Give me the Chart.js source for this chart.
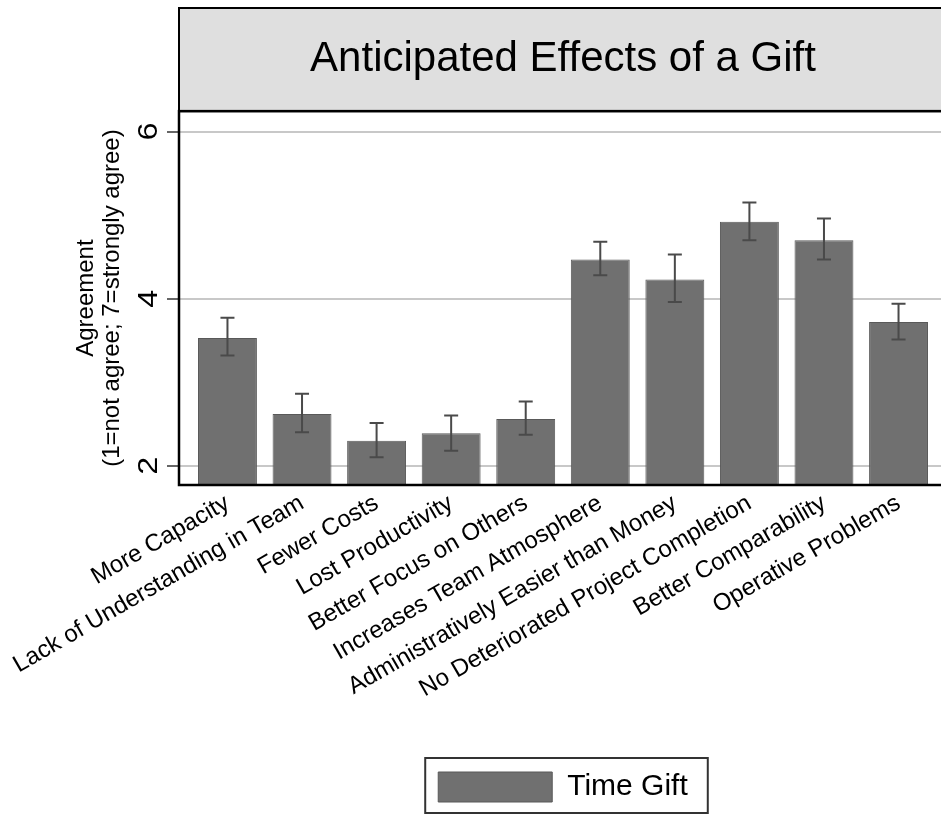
<!DOCTYPE html>
<html>
<head>
<meta charset="utf-8">
<title>Anticipated Effects of a Gift</title>
<script src="https://cdn.jsdelivr.net/npm/chart.js@4/dist/chart.umd.min.js"></script>
<style>
  html, body { margin: 0; padding: 0; background: #fff; overflow: hidden; }
  #wrap { width: 950px; height: 814px; }
</style>
</head>
<body>
<div id="wrap"><canvas id="gift-chart" width="950" height="814"></canvas></div>
<script>
const categories = [
  "More Capacity",
  "Lack of Understanding in Team",
  "Fewer Costs",
  "Lost Productivity",
  "Better Focus on Others",
  "Increases Team Atmosphere",
  "Administratively Easier than Money",
  "No Deteriorated Project Completion",
  "Better Comparability",
  "Operative Problems"
];
const meanAgreement = [3.53, 2.62, 2.30, 2.39, 2.56, 4.47, 4.23, 4.92, 4.70, 3.72];
const ciUpper = [3.77, 2.86, 2.51, 2.60, 2.77, 4.68, 4.53, 5.15, 4.96, 3.94];
const ciLower = [3.32, 2.40, 2.10, 2.18, 2.37, 4.28, 3.96, 4.70, 4.47, 3.51];
const yTicks = [2, 4, 6];
const seriesLabel = "Time Gift";
const chartTitle = "Anticipated Effects of a Gift";
const yTitle = ["Agreement", "(1=not agree; 7=strongly agree)"];

const canvas = document.getElementById("gift-chart");

// gray title box + black frame around the plot
const framePlugin = {
  id: "frame",
  beforeDraw(chart) {
    const ctx = chart.ctx;
    const t = chart.titleBlock;
    ctx.save();
    ctx.fillStyle = "#dfdfdf";
    ctx.fillRect(t.left, t.top, t.width + 10, t.height);
    ctx.strokeStyle = "#000";
    ctx.lineWidth = 2;
    ctx.strokeRect(t.left, t.top, t.width + 10, t.height);
    ctx.restore();
  },
  afterDatasetsDraw(chart) {
    const ctx = chart.ctx;
    const a = chart.chartArea;
    ctx.save();
    ctx.strokeStyle = "#000";
    ctx.lineWidth = 2.5;
    ctx.strokeRect(a.left, a.top, a.right - a.left + 10, a.bottom - a.top);
    ctx.restore();
  }
};

// confidence interval whiskers
const errorBarPlugin = {
  id: "errorBars",
  afterDatasetsDraw(chart) {
    const ctx = chart.ctx;
    const y = chart.scales.y;
    const meta = chart.getDatasetMeta(0);
    ctx.save();
    ctx.strokeStyle = "#4a4a4a";
    ctx.lineWidth = 2;
    meta.data.forEach((bar, i) => {
      const top = y.getPixelForValue(ciUpper[i]);
      const bottom = y.getPixelForValue(ciLower[i]);
      ctx.beginPath();
      ctx.moveTo(bar.x, top);
      ctx.lineTo(bar.x, bottom);
      ctx.moveTo(bar.x - 7, top);
      ctx.lineTo(bar.x + 7, top);
      ctx.moveTo(bar.x - 7, bottom);
      ctx.lineTo(bar.x + 7, bottom);
      ctx.stroke();
    });
    ctx.restore();
  }
};

// rotated y tick labels and the legend frame
const labelPlugin = {
  id: "yLabels",
  afterDraw(chart) {
    const ctx = chart.ctx;
    const y = chart.scales.y;
    ctx.save();
    ctx.fillStyle = "#000";
    ctx.font = "27px 'Liberation Sans', Arial, sans-serif";
    ctx.textAlign = "center";
    ctx.textBaseline = "middle";
    yTicks.forEach(v => {
      ctx.save();
      ctx.translate(149, y.getPixelForValue(v));
      ctx.rotate(-Math.PI / 2);
      ctx.scale(1.2, 1);
      ctx.fillText(String(v), 0, 1);
      ctx.restore();
    });
    const hb = chart.legend.legendHitBoxes[0];
    if (hb) {
      ctx.strokeStyle = "#333";
      ctx.lineWidth = 2;
      ctx.strokeRect(hb.left - 13, hb.top - 14, hb.width + 33, hb.height + 25);
    }
    ctx.restore();
  }
};

new Chart(canvas, {
  type: "bar",
  data: {
    datasets: [{
      label: seriesLabel,
      data: meanAgreement.map((v, i) => ({ x: i, y: v })),
      backgroundColor: "#707070",
      borderColor: "#595959",
      borderWidth: 1,
      barPercentage: 0.79,
      categoryPercentage: 1
    }]
  },
  options: {
    responsive: false,
    animation: false,
    layout: { padding: { top: 8, left: 0, right: 3, bottom: 2 } },
    scales: {
      x: {
        type: "linear",
        min: -0.65,
        max: 9.65,
        offset: false,
        afterBuildTicks: scale => {
          scale.ticks = categories.map((c, i) => ({ value: i }));
        },
        afterFit: scale => { scale.height = 277; },
        grid: { display: false },
        border: { display: false },
        ticks: {
          autoSkip: false,
          minRotation: 30,
          maxRotation: 30,
          padding: -4,
          color: "#000",
          font: { family: "'Liberation Sans', Arial, sans-serif", size: 24 },
          callback: v => categories[v]
        }
      },
      y: {
        min: 1.769,
        max: 6.245,
        afterBuildTicks: scale => {
          scale.ticks = yTicks.map(v => ({ value: v }));
        },
        afterFit: scale => { scale.width = 179; },
        border: { display: false },
        grid: {
          color: "#c8c8c8",
          lineWidth: 2,
          drawTicks: true,
          tickLength: 12,
          tickColor: "#666",
          tickWidth: 2
        },
        ticks: { display: false },
        title: {
          display: true,
          text: yTitle,
          color: "#000",
          padding: { top: 73, bottom: 0 },
          font: { family: "'Liberation Sans', Arial, sans-serif", size: 24, lineHeight: 1.08 }
        }
      }
    },
    plugins: {
      title: {
        display: true,
        text: chartTitle,
        fullSize: false,
        color: "#000",
        padding: { top: 27, bottom: 27 },
        font: { family: "'Liberation Sans', Arial, sans-serif", size: 42, weight: "normal", lineHeight: 1.17 }
      },
      legend: {
        position: "bottom",
        fullSize: false,
        labels: {
          boxWidth: 114,
          boxHeight: 30,
          padding: 10,
          color: "#000",
          font: { family: "'Liberation Sans', Arial, sans-serif", size: 30 }
        }
      },
      tooltip: { enabled: false }
    }
  },
  plugins: [framePlugin, errorBarPlugin, labelPlugin]
});
</script>
</body>
</html>
